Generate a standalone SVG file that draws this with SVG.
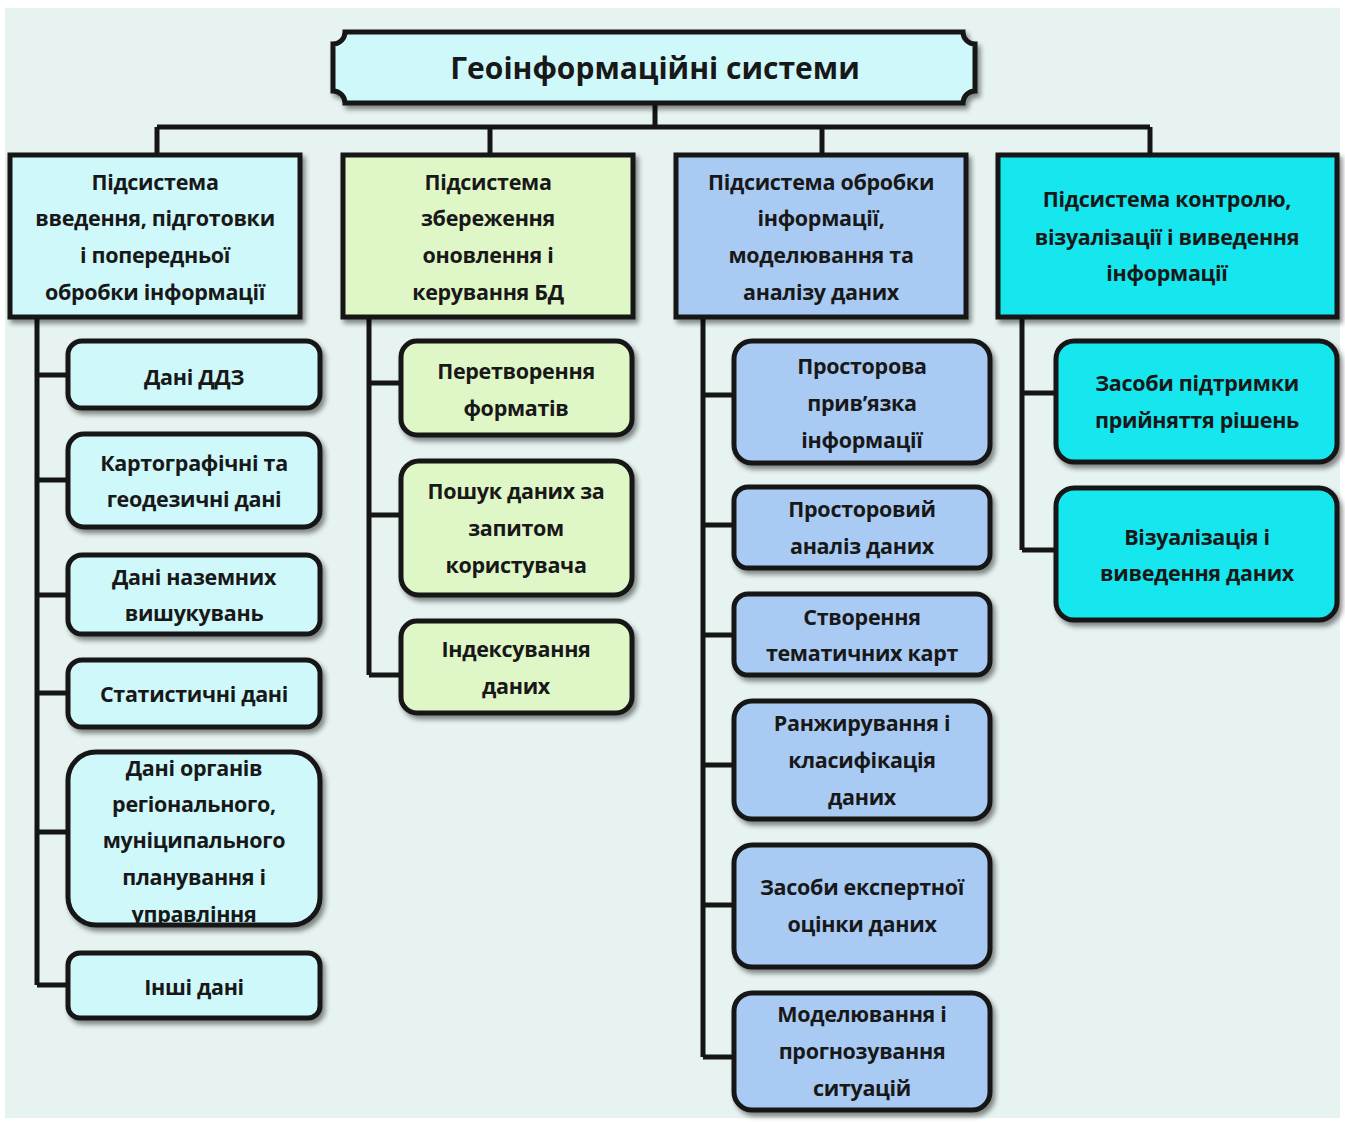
<svg xmlns="http://www.w3.org/2000/svg" width="1345" height="1122" viewBox="0 0 1345 1122">
<defs>
<filter id="sh" x="-10%" y="-10%" width="130%" height="130%">
<feDropShadow dx="3" dy="4" stdDeviation="2.5" flood-color="#000" flood-opacity="0.45"/>
</filter>
<style>
.t{font-family:"Open Sans","Noto Sans",sans-serif;font-weight:700;font-size:21.5px;letter-spacing:-0.3px;fill:#181818;text-anchor:middle}
.tt{font-size:30px;letter-spacing:0}
.b{stroke:#151515;stroke-width:5}
.c1{fill:#cff8fb}
.c2{fill:#dff6c6}
.c3{fill:#a9cbf3}
.c4{fill:#16e6ee}
.ln{stroke:#151515;stroke-width:5;fill:none}
</style>
</defs>
<rect x="0" y="0" width="1345" height="1122" fill="#ffffff"/>
<rect x="5" y="8" width="1335" height="1110" fill="#e7f3f1"/>

<g id="connectors">
<path class="ln" d="M655,103 V127 M157,127 H1150 M157,127 V155 M490,127 V155 M822,127 V155 M1150,127 V155"/>
<path class="ln" d="M37,317 V985 M37,375 H68 M37,480 H68 M37,595 H68 M37,693 H68 M37,832 H68 M37,985 H68"/>
<path class="ln" d="M369,317 V675 M369,383 H401 M369,515 H401 M369,675 H401"/>
<path class="ln" d="M703,317 V1057 M703,395 H734 M703,525 H734 M703,635 H734 M703,765 H734 M703,905 H734 M703,1057 H734"/>
<path class="ln" d="M1022,317 V550 M1022,393 H1056 M1022,550 H1056"/>
</g>

<g id="title">
<path class="b c1" filter="url(#sh)" d="M345,32 H963 A12,12 0 0 0 975,44 V91 A12,12 0 0 0 963,103 H345 A12,12 0 0 0 333,91 V44 A12,12 0 0 0 345,32 Z"/>
<text class="t tt" x="655" y="79">Геоінформаційні системи</text>
</g>

<g id="h1">
<rect class="b c1" filter="url(#sh)" x="10" y="155" width="290" height="162"/>
<text class="t" x="155"><tspan x="155" y="190">Підсистема</tspan><tspan x="155" y="226">введення, підготовки</tspan><tspan x="155" y="263">і попередньої</tspan><tspan x="155" y="300">обробки інформації</tspan></text>
</g>
<g id="h2">
<rect class="b c2" filter="url(#sh)" x="343" y="155" width="290" height="162"/>
<text class="t"><tspan x="488" y="190">Підсистема</tspan><tspan x="488" y="226">збереження</tspan><tspan x="488" y="263">оновлення і</tspan><tspan x="488" y="300">керування БД</tspan></text>
</g>
<g id="h3">
<rect class="b c3" filter="url(#sh)" x="676" y="155" width="290" height="162"/>
<text class="t"><tspan x="821" y="190">Підсистема обробки</tspan><tspan x="821" y="226">інформації,</tspan><tspan x="821" y="263">моделювання та</tspan><tspan x="821" y="300">аналізу даних</tspan></text>
</g>
<g id="h4">
<rect class="b c4" filter="url(#sh)" x="998" y="155" width="339" height="162"/>
<text class="t"><tspan x="1167" y="207">Підсистема контролю,</tspan><tspan x="1167" y="245">візуалізації і виведення</tspan><tspan x="1167" y="281">інформації</tspan></text>
</g>

<g id="n1a"><rect class="b c1" filter="url(#sh)" x="68" y="341" width="252" height="67" rx="14"/><text class="t" x="194" y="385">Дані ДДЗ</text></g>
<g id="n1b"><rect class="b c1" filter="url(#sh)" x="68" y="434" width="252" height="93" rx="16"/><text class="t"><tspan x="194" y="471">Картографічні та</tspan><tspan x="194" y="507">геодезичні дані</tspan></text></g>
<g id="n1c"><rect class="b c1" filter="url(#sh)" x="68" y="555" width="252" height="79" rx="14"/><text class="t"><tspan x="194" y="585">Дані наземних</tspan><tspan x="194" y="621">вишукувань</tspan></text></g>
<g id="n1d"><rect class="b c1" filter="url(#sh)" x="68" y="660" width="252" height="67" rx="14"/><text class="t" x="194" y="702">Статистичні дані</text></g>
<g id="n1e"><rect class="b c1" filter="url(#sh)" x="68" y="752" width="252" height="173" rx="28"/><text class="t"><tspan x="194" y="776">Дані органів</tspan><tspan x="194" y="812">регіонального,</tspan><tspan x="194" y="848">муніципального</tspan><tspan x="194" y="885">планування і</tspan><tspan x="194" y="922">управління</tspan></text></g>
<g id="n1f"><rect class="b c1" filter="url(#sh)" x="68" y="953" width="252" height="65" rx="12"/><text class="t" x="194" y="995">Інші дані</text></g>

<g id="n2a"><rect class="b c2" filter="url(#sh)" x="401" y="341" width="231" height="94" rx="16"/><text class="t"><tspan x="516" y="379">Перетворення</tspan><tspan x="516" y="416">форматів</tspan></text></g>
<g id="n2b"><rect class="b c2" filter="url(#sh)" x="401" y="461" width="231" height="134" rx="18"/><text class="t"><tspan x="516" y="499">Пошук даних за</tspan><tspan x="516" y="536">запитом</tspan><tspan x="516" y="573">користувача</tspan></text></g>
<g id="n2c"><rect class="b c2" filter="url(#sh)" x="401" y="621" width="231" height="92" rx="16"/><text class="t"><tspan x="516" y="657">Індексування</tspan><tspan x="516" y="694">даних</tspan></text></g>

<g id="n3a"><rect class="b c3" filter="url(#sh)" x="734" y="341" width="256" height="122" rx="18"/><text class="t"><tspan x="862" y="374">Просторова</tspan><tspan x="862" y="411">прив’язка</tspan><tspan x="862" y="448">інформації</tspan></text></g>
<g id="n3b"><rect class="b c3" filter="url(#sh)" x="734" y="487" width="256" height="81" rx="14"/><text class="t"><tspan x="862" y="517">Просторовий</tspan><tspan x="862" y="554">аналіз даних</tspan></text></g>
<g id="n3c"><rect class="b c3" filter="url(#sh)" x="734" y="594" width="256" height="81" rx="14"/><text class="t"><tspan x="862" y="625">Створення</tspan><tspan x="862" y="661">тематичних карт</tspan></text></g>
<g id="n3d"><rect class="b c3" filter="url(#sh)" x="734" y="701" width="256" height="118" rx="18"/><text class="t"><tspan x="862" y="731">Ранжирування і</tspan><tspan x="862" y="768">класифікація</tspan><tspan x="862" y="805">даних</tspan></text></g>
<g id="n3e"><rect class="b c3" filter="url(#sh)" x="734" y="845" width="256" height="122" rx="18"/><text class="t"><tspan x="862" y="895">Засоби експертної</tspan><tspan x="862" y="932">оцінки даних</tspan></text></g>
<g id="n3f"><rect class="b c3" filter="url(#sh)" x="734" y="993" width="256" height="117" rx="18"/><text class="t"><tspan x="862" y="1022">Моделювання і</tspan><tspan x="862" y="1059">прогнозування</tspan><tspan x="862" y="1096">ситуацій</tspan></text></g>

<g id="n4a"><rect class="b c4" filter="url(#sh)" x="1056" y="341" width="281" height="121" rx="18"/><text class="t"><tspan x="1197" y="391">Засоби підтримки</tspan><tspan x="1197" y="428">прийняття рішень</tspan></text></g>
<g id="n4b"><rect class="b c4" filter="url(#sh)" x="1056" y="488" width="281" height="132" rx="18"/><text class="t"><tspan x="1197" y="545">Візуалізація і</tspan><tspan x="1197" y="581">виведення даних</tspan></text></g>
</svg>
